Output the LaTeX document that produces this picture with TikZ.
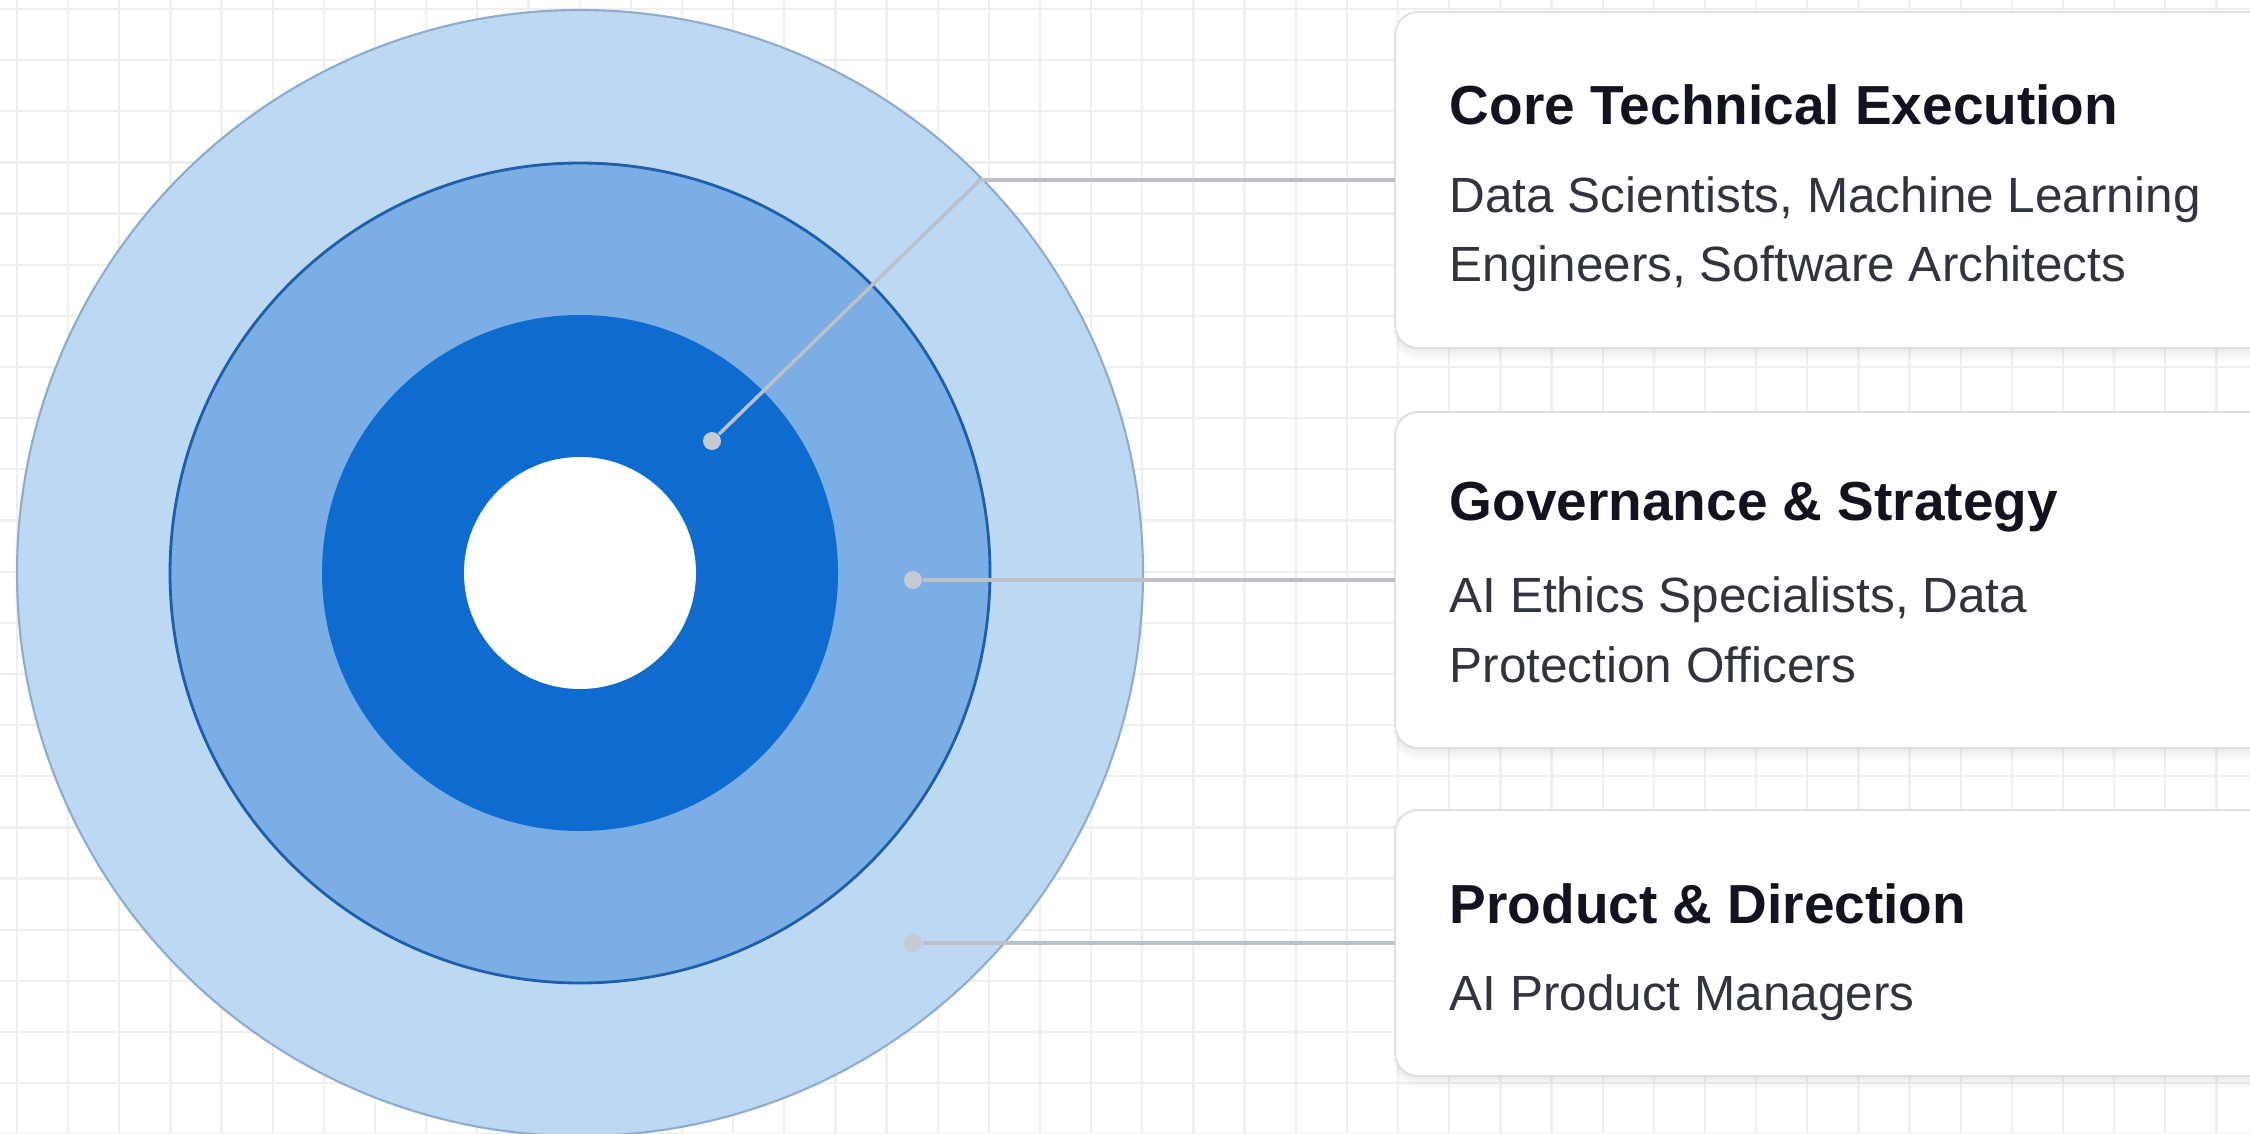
\documentclass[tikz,border=0pt]{standalone}
\usepackage{fontspec}
\setmainfont{Liberation Sans}
\usetikzlibrary{shadows}
\definecolor{outerfill}{RGB}{189,216,243}
\definecolor{outerline}{RGB}{143,172,206}
\definecolor{midfill}{RGB}{122,174,228}
\definecolor{midline}{RGB}{30,95,172}
\definecolor{innerfill}{RGB}{14,107,207}
\definecolor{gridc}{RGB}{239,239,239}
\definecolor{connc}{RGB}{188,192,200}
\definecolor{dotc}{RGB}{198,202,210}
\definecolor{titlec}{RGB}{17,20,30}
\definecolor{bodyc}{RGB}{48,52,60}
\definecolor{cardline}{RGB}{222,222,224}
\tikzset{
  gridline/.style={draw=gridc, line width=0.65pt},
  ring/.style={circle, inner sep=0pt, outer sep=0pt, minimum size=#1},
  ringA/.style={ring=#1, fill=outerfill, draw=outerline, line width=0.6pt},
  ringB/.style={ring=#1, fill=midfill, draw=midline, line width=0.8pt},
  ringC/.style={ring=#1, fill=innerfill},
  ringD/.style={ring=#1, fill=white},
  dotnode/.style={circle, fill=dotc, inner sep=0pt, minimum size=1.8mm},
  conn/.style={draw=connc, line width=1pt},
  card/.style={rectangle, rounded corners=2.3mm, fill=white, draw=cardline, line width=0.5pt,
    minimum width=95mm, minimum height=#1, inner sep=0pt, outer sep=0pt,
    drop shadow={shadow xshift=0pt, shadow yshift=-3.5pt, opacity=0.035},
    drop shadow={shadow xshift=0pt, shadow yshift=-2.2pt, opacity=0.045},
    drop shadow={shadow xshift=0pt, shadow yshift=-1pt, opacity=0.06}},
  titletext/.style={anchor=base west, inner sep=0pt, text=titlec, font=\fontsize{15.65}{18}\selectfont\bfseries},
  bodytext/.style={anchor=base west, inner sep=0pt, text=bodyc, font=\fontsize{14.08}{16}\selectfont}
}
\begin{document}
\begin{tikzpicture}[x=0.1mm, y=-0.1mm]
\useasboundingbox (0,0) rectangle (2250,1134);
\clip (0,0) rectangle (2250,1134);
\fill[white] (0,0) rectangle (2250,1134);
% grid
\foreach \i in {0,...,44} { \draw[gridline] ({17+51.15*\i},0) -- ({17+51.15*\i},1134); }
\foreach \i in {0,...,22} { \draw[gridline] (0,{9+51.15*\i}) -- (2250,{9+51.15*\i}); }
% rings
\coordinate (ctr) at (580,573);
\node (outer) [ringA=112.6mm] at (ctr) {};
\node (middle) [ringB=82.0mm] at (ctr) {};
\node (inner) [ringC=51.6mm] at (ctr) {};
\node (hole) [ringD=23.2mm] at (ctr) {};
% cards
\node (card1) [card=33.6mm, anchor=west] at (1395,180) {};
\node (card2) [card=33.6mm, anchor=west] at (1395,580) {};
\node (card3) [card=26.6mm, anchor=west] at (1395,943) {};
% connectors
\coordinate (b1) at (980,180);
\node (d1) [dotnode] at (712,441) {};
\node (d2) [dotnode] at (913,580) {};
\node (d3) [dotnode] at (913,943) {};
\draw[conn] (d1) -- (b1) -- (card1.west);
\draw[conn] (d2) -- (card2.west);
\draw[conn] (d3) -- (card3.west);
% texts
\node (t1) [titletext] at (1449,125) {Core Technical Execution};
\node (s1a) [bodytext] at (1449,213) {Data Scientists, Machine Learning};
\node (s1b) [bodytext] at (1449,282) {Engineers, Software Architects};
\node (t2) [titletext] at (1449,520) {Governance \& Strategy};
\node (s2a) [bodytext] at (1449,612) {AI Ethics Specialists, Data};
\node (s2b) [bodytext] at (1449,682) {Protection Officers};
\node (t3) [titletext] at (1449,923) {Product \& Direction};
\node (s3a) [bodytext] at (1449,1010) {AI Product Managers};
\end{tikzpicture}
\end{document}
